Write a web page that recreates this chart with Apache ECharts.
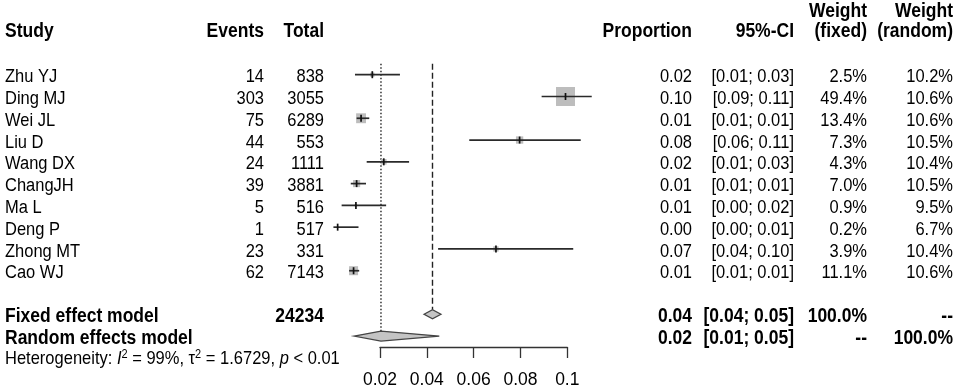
<!DOCTYPE html>
<html>
<head>
<meta charset="utf-8">
<script src="https://cdn.jsdelivr.net/npm/echarts@6/dist/echarts.min.js"></script>
<style>
  html, body { margin: 0; padding: 0; background: #fff; }
  #main { width: 957px; height: 390px; }
</style>
</head>
<body>
<div id="main"></div>
<script>
// study data
var studies = ['Zhu YJ', 'Ding MJ', 'Wei JL', 'Liu D', 'Wang DX', 'ChangJH', 'Ma L', 'Deng P', 'Zhong MT', 'Cao WJ']
var events = [14, 303, 75, 44, 24, 39, 5, 1, 23, 62]
var totals = [838, 3055, 6289, 553, 1111, 3881, 516, 517, 331, 7143]
var props = [0.0167, 0.0992, 0.0119, 0.0796, 0.0216, 0.0100, 0.0097, 0.0019, 0.0695, 0.0087]
var ciLow = [0.0093, 0.0890, 0.0100, 0.0581, 0.0143, 0.0075, 0.0036, 0.0001, 0.0448, 0.0068]
var ciHigh = [0.0285, 0.1104, 0.0154, 0.1057, 0.0324, 0.0140, 0.0226, 0.0108, 0.1025, 0.0111]
var propText = ['0.02', '0.10', '0.01', '0.08', '0.02', '0.01', '0.01', '0.00', '0.07', '0.01']
var ciText = ['[0.01; 0.03]', '[0.09; 0.11]', '[0.01; 0.01]', '[0.06; 0.11]', '[0.01; 0.03]',
              '[0.01; 0.01]', '[0.00; 0.02]', '[0.00; 0.01]', '[0.04; 0.10]', '[0.01; 0.01]']
var wFixed = [2.5, 49.4, 13.4, 7.3, 4.3, 7.0, 0.9, 0.2, 3.9, 11.1]
var wRandom = [10.2, 10.6, 10.6, 10.5, 10.4, 10.5, 9.5, 6.7, 10.4, 10.6]

// pooled estimates [low, est, high]
var fixedModel = [0.0388, 0.0424, 0.0460]
var randomModel = [0.0089, 0.0204, 0.0453]
var fixedRow = ['Fixed effect model', '', '24234', '0.04', '[0.04; 0.05]', '100.0%', '--']
var randomRow = ['Random effects model', '', '', '0.02', '[0.01; 0.05]', '--', '100.0%']
var headerRow = ['Study', 'Events', 'Total', 'Proportion', '95%-CI', '(fixed)', '(random)']
var headerTop = ['', '', '', '', '', 'Weight', 'Weight']
var axisTicks = [0.02, 0.04, 0.06, 0.08, 0.1]
var tickLabels = ['0.02', '0.04', '0.06', '0.08', '0.1']

var FONT = '"Liberation Sans", Arial, sans-serif'
var REG = 16.5, BOLD = 17.5, SY = 1.12
// column anchors (px) and alignment
var cols = [
  { x: 5, align: 'left' }, { x: 264, align: 'right' }, { x: 324, align: 'right' },
  { x: 692, align: 'right' }, { x: 794, align: 'right' }, { x: 867, align: 'right' },
  { x: 953, align: 'right' }
]

var rows = []
rows.push({ row: -3, cells: headerTop, bold: true })
rows.push({ row: -2.1, cells: headerRow, bold: true })
studies.forEach(function (s, i) {
  rows.push({ row: i, bold: false, cells: [s, String(events[i]), String(totals[i]), propText[i], ciText[i],
    wFixed[i].toFixed(1) + '%', wRandom[i].toFixed(1) + '%'] })
})
rows.push({ row: 11, cells: fixedRow, bold: true })
rows.push({ row: 12, cells: randomRow, bold: true })

var studyData = studies.map(function (s, i) {
  return [ciLow[i], props[i], ciHigh[i], i, wFixed[i]]
})
var maxW = Math.max.apply(null, wFixed)

var chart = echarts.init(document.getElementById('main'))

var option = {
  animation: false,
  grid: [
    { left: 333.2, top: 9.36, width: 257.6, height: 370.26, show: false },
    { left: 380, top: 346, width: 187.3, height: 1, show: false }
  ],
  xAxis: [
    { gridIndex: 0, type: 'value', min: 0, max: 0.11, show: false },
    {
      gridIndex: 1, type: 'value', position: 'bottom',
      min: axisTicks[0], max: axisTicks[axisTicks.length - 1], interval: 0.02,
      axisLine: { show: true, lineStyle: { color: '#333', width: 1.3 } },
      axisTick: { show: true, length: 11, lineStyle: { color: '#333', width: 1.3 } },
      splitLine: { show: false },
      axisLabel: {
        margin: 24, color: '#000', fontSize: 17.5, fontFamily: FONT,
        showMinLabel: true, showMaxLabel: true,
        formatter: function (v) {
          var k = axisTicks.findIndex(function (t) { return Math.abs(t - v) < 1e-9 })
          return k >= 0 ? tickLabels[k] : ''
        }
      }
    }
  ],
  yAxis: [
    { gridIndex: 0, type: 'value', min: -3, max: 14, inverse: true, show: false },
    { gridIndex: 1, type: 'value', show: false }
  ],
  series: [
    {
      // reference lines + pooled diamonds
      type: 'custom', xAxisIndex: 0, yAxisIndex: 0, clip: false,
      data: [[0]],
      renderItem: function (params, api) {
        var top = api.coord([0, -0.5])[1]
        var fy = api.coord([0, 11])[1], ry = api.coord([0, 12])[1]
        var fx = api.coord([fixedModel[1], 0])[0], rx = api.coord([randomModel[1], 0])[0]
        function diamond(m, y, h) {
          var a = api.coord([m[0], 0])[0], b = api.coord([m[1], 0])[0], c = api.coord([m[2], 0])[0]
          return { type: 'polygon', shape: { points: [[a, y], [b, y - h], [c, y], [b, y + h]] },
            style: { fill: '#c4c4c4', stroke: '#444', lineWidth: 1.3 } }
        }
        return { type: 'group', children: [
          { type: 'line', shape: { x1: fx, y1: top, x2: fx, y2: fy - 4.5 },
            style: { stroke: '#222', lineWidth: 1.4, lineDash: [6, 3] } },
          { type: 'line', shape: { x1: rx, y1: top, x2: rx, y2: ry - 5 },
            style: { stroke: '#222', lineWidth: 1.4, lineDash: [1.5, 2] } },
          diamond(fixedModel, fy, 4.5),
          diamond(randomModel, ry, 5)
        ] }
      }
    },
    {
      // study CIs and weighted squares
      type: 'custom', xAxisIndex: 0, yAxisIndex: 0, clip: false,
      data: studyData,
      renderItem: function (params, api) {
        var r = api.value(3)
        var lo = api.coord([api.value(0), r]), pt = api.coord([api.value(1), r]), hi = api.coord([api.value(2), r])
        var side = 19 * Math.sqrt(api.value(4) / maxW)
        return { type: 'group', children: [
          { type: 'rect', shape: { x: pt[0] - side / 2, y: pt[1] - side / 2, width: side, height: side },
            style: { fill: '#bdbdbd' } },
          { type: 'line', shape: { x1: lo[0], y1: lo[1], x2: hi[0], y2: hi[1] },
            style: { stroke: '#2a2a2a', lineWidth: 1.7 } },
          { type: 'line', shape: { x1: pt[0], y1: pt[1] - 3.5, x2: pt[0], y2: pt[1] + 3.5 },
            style: { stroke: '#111', lineWidth: 1.7 } }
        ] }
      }
    },
    {
      // table text
      type: 'custom', xAxisIndex: 0, yAxisIndex: 0, clip: false,
      data: rows.map(function (r) { return [0, r.row] }),
      renderItem: function (params, api) {
        var r = rows[params.dataIndex]
        var y = api.coord([0, api.value(1)])[1] + 2.5
        var kids = []
        r.cells.forEach(function (t, c) {
          if (!t) return
          kids.push({ type: 'text', x: cols[c].x, y: y, scaleY: SY, style: {
            text: t, fill: '#000', align: cols[c].align, verticalAlign: 'middle',
            font: (r.bold ? 'bold ' + BOLD : REG) + 'px ' + FONT
          } })
        })
        return { type: 'group', children: kids }
      }
    },
    {
      // heterogeneity line
      type: 'custom', xAxisIndex: 0, yAxisIndex: 0, clip: false,
      data: [[0, 12.95]],
      renderItem: function (params, api) {
        var y = api.coord([0, api.value(1)])[1] + 2.5
        return { type: 'text', x: 5, y: y, scaleY: SY, style: {
          text: 'Heterogeneity: {i|I}{s|2} = 99%, τ{s|2} = 1.6729, {i|p} < 0.01',
          fill: '#000', align: 'left', verticalAlign: 'middle',
          fontSize: REG, fontFamily: FONT, lineHeight: 20,
          rich: {
            i: { fontStyle: 'italic', fontSize: REG, fontFamily: FONT, fill: '#000' },
            s: { fontSize: 11, fontFamily: FONT, verticalAlign: 'top', fill: '#000', lineHeight: 20 }
          }
        } }
      }
    }
  ]
}

chart.setOption(option)
</script>
</body>
</html>
